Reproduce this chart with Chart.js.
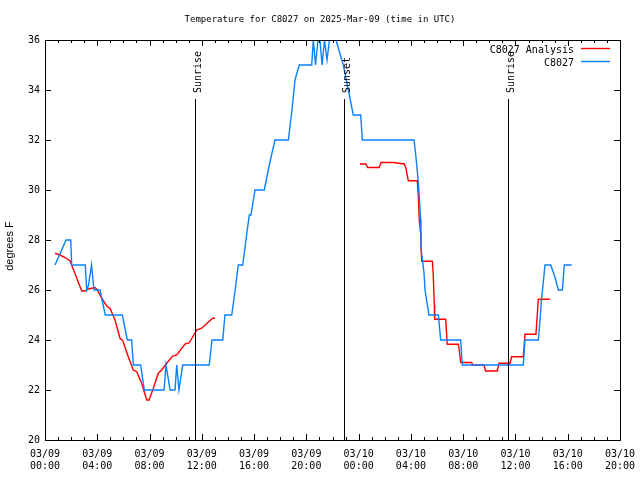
<!DOCTYPE html>
<html>
<head>
<meta charset="utf-8">
<script src="https://cdn.jsdelivr.net/npm/chart.js@4.4.1/dist/chart.umd.min.js"></script>
<style>
html,body{margin:0;padding:0;background:#fff;}
#wrap{width:640px;height:480px;}
</style>
</head>
<body>
<div id="wrap"><canvas id="c" width="640" height="480"></canvas></div>
<script>
// ---- data (hours since 03/09 00:00 UTC, degrees F) ----
const chartTitle = "Temperature for C8027 on 2025-Mar-09 (time in UTC)";
const yAxisLabel = "degrees F";
const seriesNames = ["C8027 Analysis", "C8027"];

const obsHours = [0.77,1.61,1.97,2.04,3.08,3.19,3.33,3.56,3.75,4.21,4.61,5.92,6.30,6.63,6.76,7.32,7.60,9.11,9.26,9.57,9.95,10.08,10.25,10.54,12.57,12.78,13.60,13.77,14.29,14.55,14.79,15.13,15.63,15.76,16.07,16.78,17.16,17.60,18.62,18.90,19.13,19.46,20.41,20.53,20.70,20.89,21.04,21.20,21.39,21.58,21.77,22.27,22.83,23.21,23.59,24.16,24.28,28.24,28.39,28.57,28.75,28.77,29.00,29.08,29.38,30.10,30.28,31.81,31.93,36.60,36.73,37.75,37.88,37.99,38.13,38.26,38.70,39.03,39.28,39.59,39.74,40.30];
const obsTemps = [27,28,28,27,27,26,26.2,27,26,26,25,25,24,24,23,23,22,22,23,22,22,23,22,23,23,24,24,25,25,26,27,27,29,29,30,30,31,32,32,33.2,34.4,35,35,36,35,36,36,35,36,35.2,36,36,35,34,33,33,32,32,31.3,30.3,28.8,27.7,26.7,26,25,25,24,24,23,23,24,24,24.8,25.6,26.3,27,27,26.5,26,26,27,27];

const anaHours = [0.77,1.15,1.53,1.91,2.04,2.43,2.81,3.06,3.31,3.83,4.00,4.34,4.72,4.97,5.36,5.74,5.95,6.37,6.76,7.02,7.40,7.78,7.96,8.29,8.67,8.93,9.31,9.77,10.08,10.71,11.04,11.61,11.99,12.83,13.01,18.0,24.10,24.56,24.69,25.58,25.71,26.65,27.49,27.62,27.68,27.80,28.49,28.57,28.64,28.75,28.77,28.83,29.64,29.71,29.79,29.82,30.66,30.78,31.63,31.70,31.81,32.65,32.73,33.59,33.72,34.61,34.74,35.58,35.71,36.60,36.73,37.57,37.75,38.64];
const anaTemps = [27.47,27.4,27.3,27.17,27.0,26.47,25.96,25.96,26.04,26.1,26.0,25.67,25.36,25.27,24.8,24.07,23.97,23.33,22.8,22.73,22.27,21.6,21.6,22.07,22.67,22.8,23.07,23.36,23.4,23.84,23.89,24.4,24.47,24.87,24.87,null,31.04,31.04,30.9,30.9,31.1,31.1,31.04,30.87,30.7,30.37,30.37,29.73,28.8,28.27,27.73,27.15,27.15,26.6,25.4,24.83,24.83,23.83,23.83,23.6,23.1,23.1,23.0,23.0,22.76,22.76,23.07,23.07,23.33,23.33,24.23,24.23,25.63,25.63];

const sunEventNames = ["Sunrise", "Sunset", "Sunrise"];
const sunEventHours = [11.48, 22.88, 35.43];

const xTickHours = [0,4,8,12,16,20,24,28,32,36,40,44];
const xTickDates = ["03/09","03/09","03/09","03/09","03/09","03/09","03/10","03/10","03/10","03/10","03/10","03/10"];
const xTickTimes = ["00:00","04:00","08:00","12:00","16:00","20:00","00:00","04:00","08:00","12:00","16:00","20:00"];
const yTickValues = [20,22,24,26,28,30,32,34,36];

const anaColor = "#ff0000";
const obsColor = "#0a80ff";
const MONO = "'DejaVu Sans Mono', 'Liberation Mono', monospace";

const frame = {
  id: 'frame',
  afterDraw(chart) {
    const ctx = chart.ctx;
    const a = chart.chartArea;
    const xs = chart.scales.x, ys = chart.scales.y;
    ctx.save();
    ctx.strokeStyle = '#000';
    ctx.fillStyle = '#000';
    ctx.lineWidth = 1;

    // sun event lines
    ctx.font = "10px " + MONO;
    sunEventHours.forEach((h, i) => {
      const px = Math.round(xs.getPixelForValue(h)) + 0.5;
      ctx.beginPath();
      ctx.moveTo(px, 99);
      ctx.lineTo(px, a.bottom);
      ctx.stroke();
      ctx.save();
      ctx.translate(px + 5, 93);
      ctx.rotate(-Math.PI / 2);
      ctx.textAlign = 'left';
      ctx.textBaseline = 'alphabetic';
      ctx.fillText(sunEventNames[i], 0, 0);
      ctx.restore();
    });

    // border
    ctx.strokeRect(Math.round(a.left) + 0.5, Math.round(a.top) + 0.5,
                   Math.round(a.right - a.left), Math.round(a.bottom - a.top));

    // x ticks (major every 4h, minor every 1h), bottom and top
    for (let h = xs.min; h <= xs.max; h++) {
      const px = Math.round(xs.getPixelForValue(h)) + 0.5;
      const len = xTickHours.includes(h) ? 6 : 3;
      ctx.beginPath();
      ctx.moveTo(px, a.bottom); ctx.lineTo(px, a.bottom - len);
      ctx.moveTo(px, a.top); ctx.lineTo(px, a.top + len);
      ctx.stroke();
    }
    // y ticks left and right
    yTickValues.forEach(v => {
      const py = Math.round(ys.getPixelForValue(v)) + 0.5;
      ctx.beginPath();
      ctx.moveTo(a.left, py); ctx.lineTo(a.left + 6, py);
      ctx.moveTo(a.right, py); ctx.lineTo(a.right - 6, py);
      ctx.stroke();
    });

    // x tick labels
    ctx.font = "10px " + MONO;
    ctx.textAlign = 'center';
    ctx.textBaseline = 'middle';
    xTickHours.forEach((h, i) => {
      const px = xs.getPixelForValue(h);
      ctx.fillText(xTickDates[i], px, a.bottom + 14);
      ctx.fillText(xTickTimes[i], px, a.bottom + 26);
    });
    // y tick labels
    ctx.textAlign = 'right';
    yTickValues.forEach(v => {
      ctx.fillText(String(v), a.left - 5, ys.getPixelForValue(v));
    });

    // y axis label
    ctx.save();
    ctx.font = "11px 'Liberation Sans', Arial, sans-serif";
    ctx.translate(10, 246);
    ctx.rotate(-Math.PI / 2);
    ctx.textAlign = 'center';
    ctx.textBaseline = 'middle';
    ctx.fillText(yAxisLabel, 0, 0);
    ctx.restore();

    // title
    ctx.font = "9px " + MONO;
    ctx.textAlign = 'center';
    ctx.textBaseline = 'middle';
    ctx.fillText(chartTitle, 320, 20);

    // legend
    ctx.font = "10px " + MONO;
    ctx.textAlign = 'right';
    const legColors = [anaColor, obsColor];
    seriesNames.forEach((name, i) => {
      const y = 50 + i * 13;
      ctx.fillStyle = '#000';
      ctx.fillText(name, 574, y);
      ctx.strokeStyle = legColors[i];
      ctx.lineWidth = 1.4;
      ctx.beginPath();
      ctx.moveTo(581, Math.round(y - 2) + 0.5);
      ctx.lineTo(610, Math.round(y - 2) + 0.5);
      ctx.stroke();
    });
    ctx.restore();
  }
};

new Chart(document.getElementById('c'), {
  type: 'line',
  data: {
    datasets: [
      {
        label: seriesNames[0],
        data: anaHours.map((h, i) => ({x: h, y: anaTemps[i]})),
        borderColor: anaColor,
        borderWidth: 1.4,
        pointRadius: 0,
        tension: 0,
        spanGaps: false,
        order: 1
      },
      {
        label: seriesNames[1],
        data: obsHours.map((h, i) => ({x: h, y: obsTemps[i]})),
        borderColor: obsColor,
        borderWidth: 1.4,
        pointRadius: 0,
        tension: 0,
        order: 0
      }
    ]
  },
  options: {
    responsive: false,
    animation: false,
    devicePixelRatio: 1,
    layout: { padding: { left: 45, right: 20, top: 40, bottom: 40 } },
    plugins: { legend: { display: false }, title: { display: false }, tooltip: { enabled: false } },
    scales: {
      x: { type: 'linear', min: 0, max: 44, display: false },
      y: { type: 'linear', min: 20, max: 36, display: false }
    }
  },
  plugins: [frame]
});
</script>
</body>
</html>
